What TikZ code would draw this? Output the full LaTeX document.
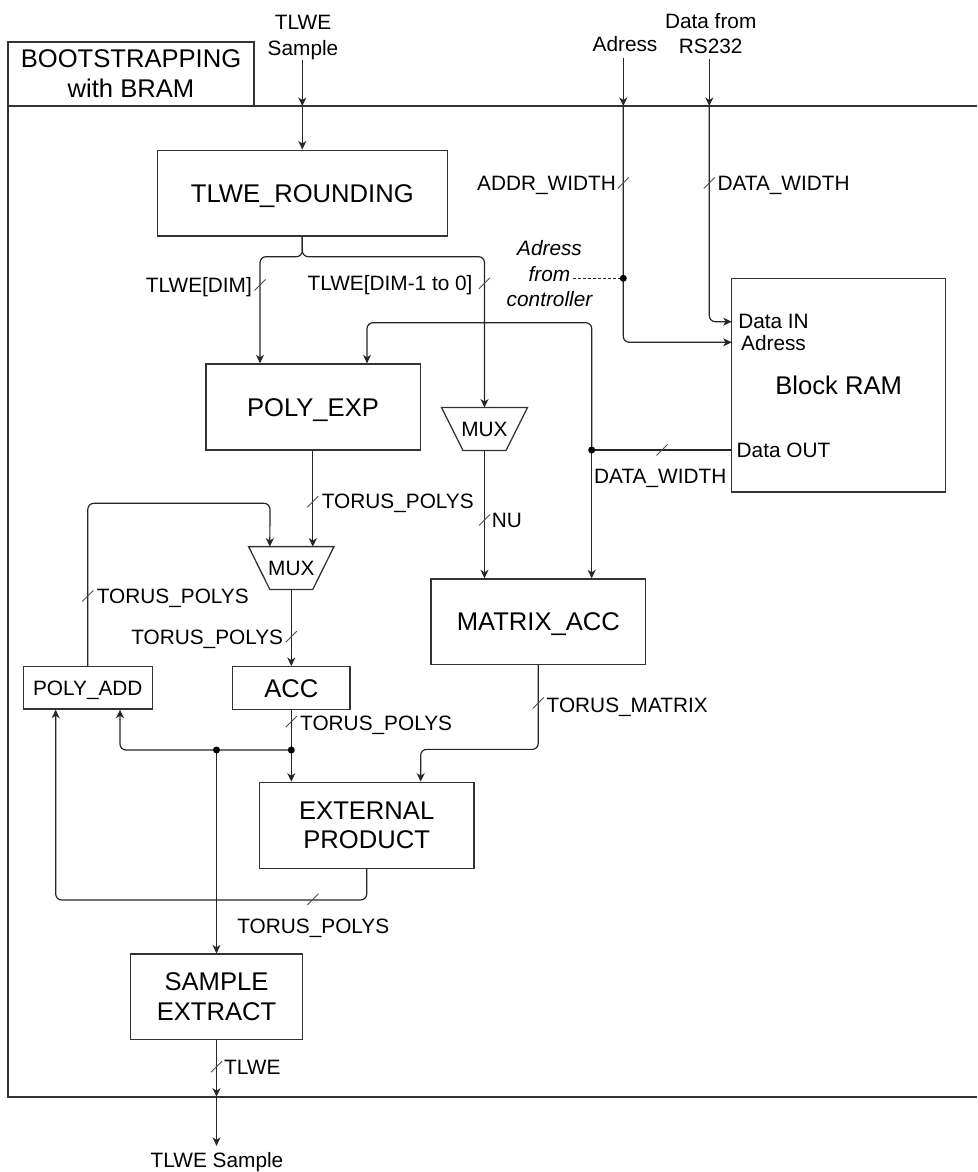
\documentclass[tikz,border=0pt]{standalone}
\usepackage{fontspec}
\setmainfont{Liberation Sans}
\usetikzlibrary{arrows.meta,calc}

\begin{document}
\begin{tikzpicture}[x=1pt,y=-1pt,
  wire/.style={draw=black!85, line width=1.2pt},
  arr/.style={wire, -{Stealth[length=8.5pt,width=8pt,inset=2.5pt]}},
  rc/.style={rounded corners=6pt},
  frameline/.style={draw=black!80, line width=1.3pt},
  bigfont/.style={font=\fontsize{25.6}{29.6}\selectfont},
  block/.style={draw=black!80, line width=1.3pt, fill=white, inner sep=0pt, align=center, bigfont},
  oneline/.style={text height=18.3pt, text depth=0pt},
  lbl/.style={inner sep=0pt, font=\fontsize{20.8}{25.6}\selectfont, text height=14.9pt, text depth=0pt},
  mlbl/.style={inner sep=0pt, align=center, font=\fontsize{20.8}{25.6}\selectfont},
  portlbl/.style={inner sep=0pt, font=\fontsize{20.8}{21.6}\selectfont},
  busmark/.pic={\draw[draw=black!70, line width=0.9pt] (-5.5,5.5) -- (5.5,-5.5);},
]
\useasboundingbox (0,0) rectangle (977,1172);

% enclosing frame and its title tab
\draw[frameline] (977,106) -- (8,106) -- (8,1097) -- (977,1097);
\node[block, minimum width=246pt, minimum height=64pt, font=\fontsize{25.6}{30}\selectfont] (title) at (131,74) {BOOTSTRAPPING\\with BRAM};

% processing blocks
\node[block, oneline, minimum width=290pt, minimum height=85.7pt] (rnd) at (302.3,193) {TLWE\_ROUNDING};
\node[block, oneline, minimum width=214.3pt, minimum height=86pt] (pexp) at (313,407) {POLY\_EXP};
\node[block, oneline, minimum width=214.7pt, minimum height=85.3pt] (mat) at (538.3,621.6) {MATRIX\_ACC};
\node[block, oneline, minimum width=117.3pt, minimum height=42.6pt] (acc) at (291.3,688) {ACC};
\node[block, minimum width=129pt, minimum height=42.3pt, font=\fontsize{20.8}{25.6}\selectfont, text height=14.9pt, text depth=0pt] (padd) at (87.8,687.9) {POLY\_ADD};
\node[block, minimum width=214.7pt, minimum height=86pt] (ep) at (366.7,825.3) {EXTERNAL\\PRODUCT};
\node[block, minimum width=171.6pt, minimum height=85.3pt] (se) at (216.5,996.7) {SAMPLE\\EXTRACT};
\node[block, oneline, minimum width=214pt, minimum height=213.7pt] (bram) at (838.7,385.2) {Block RAM};
\node[portlbl, align=center] (pin) at (773.5,332.35) {Data IN\\Adress};
\node[portlbl, anchor=west, text height=14.9pt, text depth=0pt] (pout) at (736.5,450.5) {Data OUT};

% multiplexers
\node[lbl] (mux1) at (484.5,429) {MUX};
\draw[frameline] ($(mux1)+(-43,-21.5)$) -- ($(mux1)+(43,-21.5)$) -- ($(mux1)+(21.5,21.5)$) -- ($(mux1)+(-21.5,21.5)$) -- cycle;
\node[lbl] (mux2) at (291.3,568) {MUX};
\draw[frameline] ($(mux2)+(-42.7,-21.4)$) -- ($(mux2)+(42.7,-21.4)$) -- ($(mux2)+(21.5,21.4)$) -- ($(mux2)+(-21.5,21.4)$) -- cycle;
\coordinate (m1in) at ($(mux1)+(0,-21.5)$);
\coordinate (m1out) at ($(mux1)+(0,21.5)$);
\coordinate (m2a) at ($(mux2)+(-21.5,-21.4)$);
\coordinate (m2b) at ($(mux2)+(21.5,-21.4)$);
\coordinate (m2out) at ($(mux2)+(0,21.4)$);

% external inputs and output
\node[mlbl] (tin) at (303,37.5) {TLWE\\Sample};
\node[lbl] (tadr) at (625,44.3) {Adress};
\node[mlbl] (tdat) at (710.7,33.7) {Data from\\RS232};
\node[lbl] (tout) at (217,1160) {TLWE Sample};

\coordinate (fin) at (302.3,106);
\coordinate (fadr) at (623.3,106);
\coordinate (fdat) at (709.3,106);
\coordinate (fout) at (216.5,1096.7);

% ports on the block RAM
\coordinate (bramD) at (731.7,321.7);
\coordinate (bramA) at (731.7,342.3);
\coordinate (dout) at (731.7,450);

% entry of the sample
\draw[arr] (tin.south -| fin) -- (fin);
\draw[arr] (fin) -- (rnd.north);

% split of the rounded sample
\coordinate (spl) at (302.3,256.7);
\coordinate (pexpA) at ($(pexp.north)+(-53,0)$);
\coordinate (pexpB) at ($(pexp.north)+(54,0)$);
\draw[arr, rc] (rnd.south) -- (spl) -| (pexpA);
\draw[arr, rc] (rnd.south) -- (spl) -| (m1in);
\pic at (260,285) {busmark};
\pic at (484.5,283.3) {busmark};
\node[lbl, anchor=east] (ldim) at (252,285) {TLWE[DIM]};
\node[lbl, anchor=east] (ldim2) at (472.7,283.3) {TLWE[DIM-1 to 0]};

% address and data from outside
\draw[arr, shorten <=6pt] (tadr.south -| fadr) -- (fadr);
\draw[arr, shorten <=5pt] (tdat.south -| fdat) -- (fdat);
\draw[arr, rc] (fadr) |- (bramA);
\draw[arr, rc] (fdat) |- (bramD);
\pic at (623.3,183) {busmark};
\pic at (709.3,183) {busmark};
\node[lbl, anchor=east] (laddr) at (616,183) {ADDR\_WIDTH};
\node[lbl, anchor=west] (ldw1) at (717.3,183) {DATA\_WIDTH};

% address driven by the controller
\coordinate (jadr) at (623.3,278.3);
\coordinate (ctrlEnd) at (573.3,278.3);
\node[mlbl, font=\itshape\fontsize{20.8}{25.6}\selectfont] (lctrl) at (549.5,273.75) {Adress\\from\\controller};
\draw[wire, line width=0.9pt, dash pattern=on 3pt off 2pt] (ctrlEnd) -- (jadr);
\fill[black] (jadr) circle (3.5pt);

% data read from the block RAM
\coordinate (jd) at (591.7,450);
\draw[wire] (dout) -- (jd);
\draw[arr, rc] (jd) -- (591.7,322.7) -| (pexpB);
\draw[arr] (jd) -- (mat.north -| jd);
\fill[black] (jd) circle (3.5pt);
\pic at (662,450) {busmark};
\node[lbl, anchor=west] (ldw2) at (594,476) {DATA\_WIDTH};

% polynomial path
\draw[arr] (pexp.south -| m2b) -- (m2b);
\pic at (312.8,501.7) {busmark};
\node[lbl, anchor=west] (ltp1) at (321.7,501) {TORUS\_POLYS};

\draw[arr] (m1out) -- (mat.north -| m1out);
\pic at (484.5,520) {busmark};
\node[lbl, anchor=west] (lnu) at (491.7,520.3) {NU};

\draw[arr, rc] (padd.north) |- (270,503.3) -- (m2a);
\pic at (87.8,596) {busmark};
\node[lbl, anchor=west] (ltp2) at (96.7,596) {TORUS\_POLYS};

\draw[arr] (m2out) -- (acc.north);
\pic at (291.3,636.7) {busmark};
\node[lbl, anchor=east] (ltp3) at (283.3,636.7) {TORUS\_POLYS};

% accumulator fan-out
\coordinate (jacc) at (291.3,750);
\coordinate (jse) at (216.5,750);
\coordinate (paddA) at ($(padd.south)+(-32.1,0)$);
\coordinate (paddB) at ($(padd.south)+(32.2,0)$);
\coordinate (epB) at ($(ep.north)+(54,0)$);
\draw[arr] (acc.south) -- (acc.south |- ep.north);
\draw[arr, rc] (jacc) -- (jse) -| (paddB);
\draw[arr] (jse) -- (se.north -| jse);
\fill[black] (jacc) circle (3.5pt);
\fill[black] (jse) circle (3.5pt);
\pic at (291.3,721.7) {busmark};
\node[lbl, anchor=west] (ltp4) at (300,723) {TORUS\_POLYS};

% matrix into the external product
\draw[arr, rc] (mat.south) |- ($(epB)+(0,-32.3)$) -- (epB);
\pic at (538.3,703) {busmark};
\node[lbl, anchor=west] (ltm) at (546.5,705) {TORUS\_MATRIX};

% external product back to the adder
\draw[arr, rc] (ep.south) -- ++(0,31) -| (paddA);
\pic at (313,899.3) {busmark};
\node[lbl] (ltp5) at (313.3,925.7) {TORUS\_POLYS};

% extracted sample out
\draw[arr] (se.south) -- (fout);
\draw[arr, shorten >=6.5pt] (fout) -- (tout.north -| fout);
\pic at (216.5,1066.7) {busmark};
\node[lbl, anchor=west] (ltlwe) at (224,1066.7) {TLWE};
\end{tikzpicture}
\end{document}
